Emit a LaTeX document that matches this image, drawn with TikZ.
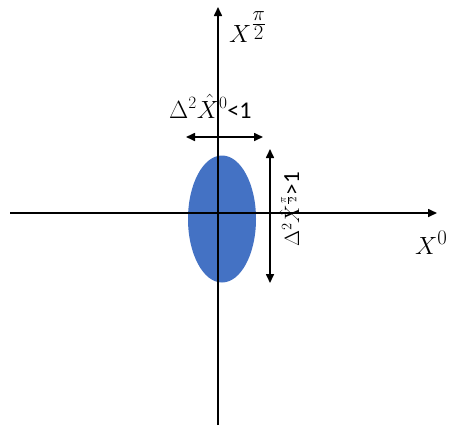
\documentclass[tikz,border=0pt]{standalone}
\usepackage{fontspec}
\newfontfamily\carl{Carlito}
\usetikzlibrary{arrows.meta,shapes.geometric}
\begin{document}
\begin{tikzpicture}[x=1pt,y=-1pt,
  axis/.style={line width=1.6pt,-{Triangle[length=9pt,width=8pt]}},
  dbl/.style={line width=1.6pt,{Triangle[length=9pt,width=8pt]}-{Triangle[length=9pt,width=8pt]}},
  lbl/.style={inner sep=0pt}]
\useasboundingbox (0,0) rectangle (452,429);
\fill[white] (0,0) rectangle (452,429);
\coordinate (yb) at (218,425);
\coordinate (yt) at (218,7);
\coordinate (xl) at (10,213);
\coordinate (xr) at (437,213);
\node[ellipse,fill={rgb,255:red,68;green,114;blue,196},minimum width=68pt,minimum height=127pt,inner sep=0pt] (el) at (222,219) {};
\draw[axis] (yb) -- (yt);
\draw[axis] (xl) -- (xr);
\coordinate (ha) at (186,137);
\coordinate (hb) at (263,137);
\draw[dbl] (ha) -- (hb);
\coordinate (va) at (270,149);
\coordinate (vb) at (270,283);
\draw[dbl] (va) -- (vb);
\node[lbl,anchor=base west,font=\fontsize{32}{38}\selectfont] (ly) at (229,42) {$X^{\textstyle\frac{\pi}{2}}$};
\node[lbl,anchor=base west,font=\fontsize{30}{36}\selectfont] (lx) at (415,254) {$X^{0}$};
\node[lbl,anchor=base west,font=\fontsize{23}{27}\selectfont] (lh) at (169,118) {$\Delta^2\hat{X}^0${\carl\fontsize{24}{28}\selectfont<1}};
\node[lbl,anchor=base west,rotate=90,font=\fontsize{21}{25}\selectfont] (lv) at (299,247) {$\Delta^2\hat{X}^{\frac{\pi}{2}}${\carl\fontsize{23}{27}\selectfont>1}};
\end{tikzpicture}
\end{document}
